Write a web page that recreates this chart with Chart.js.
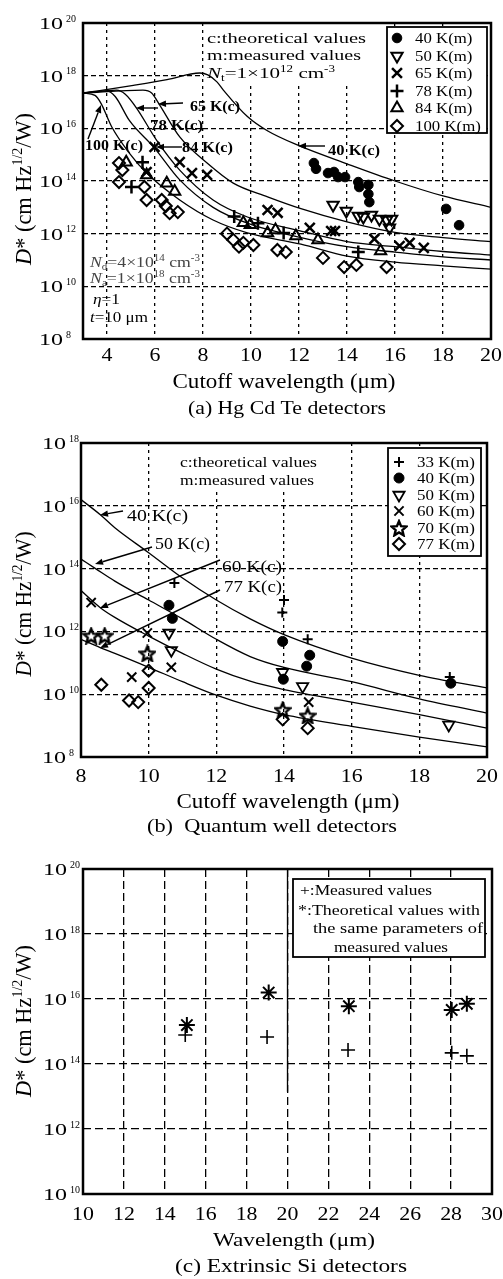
<!DOCTYPE html>
<html>
<head>
<meta charset="utf-8">
<script src="https://cdn.jsdelivr.net/npm/chart.js@4.4.0/dist/chart.umd.min.js"></script>
<style>
    html, body { margin: 0; padding: 0; background: #fff; }
    body { width: 503px; height: 1279px; position: relative; overflow: hidden; }
    .panel { position: absolute; left: 0; width: 503px; }
</style>
</head>
<body>
<div class="panel" style="top:0"><canvas id="chartA" width="503" height="420"></canvas></div>
<div class="panel" style="top:420px"><canvas id="chartB" width="503" height="420"></canvas></div>
<div class="panel" style="top:840px"><canvas id="chartC" width="503" height="439"></canvas></div>
<script>
// ---------- (a) HgCdTe detectors ----------
const hgTicksX = [4, 6, 8, 10, 12, 14, 16, 18, 20];
const hgTicksD = [1e8, 1e10, 1e12, 1e14, 1e16, 1e18, 1e20];

// theoretical curves (c)
const hgC40x = [3, 3.7, 5.1, 6.5, 7.87, 8.2, 8.58, 8.84, 9.85, 10.7, 12, 14, 16, 18, 20];
const hgC40d = [2.2e17, 2.7e17, 4.3e17, 7.1e17, 1.26e18, 1.07e18, 5.8e17, 2.9e17, 2.8e16, 7.9e15, 2.2e15, 4.5e14, 1.0e14, 2.7e13, 1.0e13];
const hgC65x = [3, 5.5, 5.86, 6.19, 7.03, 8.17, 9.26, 10.69, 12.08, 14, 16, 18, 20];
const hgC65d = [2.2e17, 2.8e17, 2.2e17, 7.8e16, 4.7e15, 4.8e14, 8.3e13, 2.5e13, 8.9e12, 2.8e12, 1.12e12, 7.1e11, 5.0e11];
const hgC78x = [3, 4.4, 4.75, 5.23, 6.07, 7.03, 8.42, 9.85, 12.08, 14, 16, 18, 20];
const hgC78d = [2.2e17, 2.8e17, 2.0e17, 5.9e16, 3.5e15, 2.6e14, 1.9e13, 4.3e12, 1.26e12, 5.0e11, 3.2e11, 2.1e11, 1.55e11];
const hgC84x = [3, 4.0, 4.35, 4.93, 5.98, 7.03, 8.42, 9.85, 12.08, 14, 16, 18, 20];
const hgC84d = [2.2e17, 2.6e17, 1.58e17, 2.0e16, 1.78e15, 1.1e14, 1.0e13, 2.5e12, 7.1e11, 3.2e11, 2.0e11, 1.32e11, 1.0e11];
const hgC100x = [3, 3.5, 3.75, 4.2, 4.93, 5.65, 7.03, 8.42, 9.85, 12.08, 14, 16, 18, 20];
const hgC100d = [2.2e17, 1.78e17, 8.9e16, 1.12e16, 1.15e15, 2.0e14, 1.9e13, 3.3e12, 1.07e12, 4.0e11, 1.41e11, 8.3e10, 6.0e10, 4.5e10];

// measured values (m)
const hgM40x = [12.62, 12.71, 13.21, 13.46, 13.63, 13.92, 14.47, 14.51, 14.89, 14.89, 14.93, 18.13, 18.67];
const hgM40d = [4.8e14, 2.9e14, 2.0e14, 2.2e14, 1.41e14, 1.41e14, 9.1e13, 5.9e13, 7.1e13, 3.2e13, 1.58e13, 8.7e12, 2.1e12];
const hgM50x = [13.42, 13.97, 14.47, 14.68, 15.02, 15.35, 15.65, 15.86, 15.77];
const hgM50d = [1.23e13, 7.2e12, 4.7e12, 4.3e12, 5.1e12, 3.6e12, 3.3e12, 3.6e12, 1.66e12];
const hgM65x = [5.98, 5.65, 7.03, 7.54, 8.17, 10.69, 11.11, 12.45, 13.34, 13.50, 15.14, 16.19, 16.61, 17.20];
const hgM65d = [1.95e15, 2.2e14, 5.2e14, 2.0e14, 1.7e14, 7.9e12, 6.2e12, 1.66e12, 1.26e12, 1.26e12, 6.3e11, 3.4e11, 4.5e11, 2.9e11];
const hgM78x = [5.02, 5.48, 9.30, 10.29, 11.36, 14.47];
const hgM78d = [5.9e13, 5.2e14, 4.5e12, 2.5e12, 1.07e12, 2.0e11];
const hgM84x = [4.8, 5.65, 6.49, 6.82, 9.68, 9.97, 10.69, 11.02, 11.87, 12.79, 15.4];
const hgM84d = [5.2e14, 1.7e14, 8.3e13, 4.0e13, 2.6e12, 2.2e12, 1.07e12, 1.38e12, 8.1e11, 5.8e11, 2.2e11];
const hgM100x = [4.5, 4.64, 4.5, 5.56, 5.65, 6.28, 6.45, 6.61, 6.95, 9.0, 9.26, 9.5, 9.68, 10.1, 11.1, 11.45, 13.0, 13.88, 14.39, 15.65];
const hgM100d = [4.8e14, 2.6e14, 9.1e13, 5.9e13, 1.9e13, 1.9e13, 1.12e13, 6.0e12, 6.6e12, 1.0e12, 5.8e11, 3.2e11, 4.5e11, 3.7e11, 2.4e11, 2.0e11, 1.2e11, 5.4e10, 6.5e10, 5.4e10];
const hgLegend = ['40 K(m)', '50 K(m)', '65 K(m)', '78 K(m)', '84 K(m)', '100 K(m)'];

// ---------- (b) Quantum well detectors ----------
const qwTicksX = [8, 10, 12, 14, 16, 18, 20];
const qwTicksD = [1e8, 1e10, 1e12, 1e14, 1e16, 1e18];

const qwC40x = [8, 8.58, 9, 10, 11, 12, 13, 14, 16, 18, 20];
const qwC40d = [1.58e16, 5.1e15, 2.0e15, 3.2e14, 5.0e13, 1.0e13, 2.5e12, 7.9e11, 1.41e11, 4.0e10, 1.58e10];
const qwC50x = [8, 8.43, 9, 10, 11, 12, 13, 14, 16, 18, 20];
const qwC50d = [2.0e14, 1.0e14, 4.0e13, 1.0e13, 2.5e12, 5.6e11, 1.58e11, 7.1e10, 2.5e10, 7.1e9, 2.5e9];
const qwC60x = [8, 8.58, 9, 10, 11, 12, 13, 14, 16, 18, 20];
const qwC60d = [2.0e13, 5.6e12, 2.8e12, 7.1e11, 2.0e11, 6.3e10, 2.6e10, 1.41e10, 5.6e9, 2.24e9, 8.3e8];
const qwC77x = [8, 8.58, 9, 10, 11, 12, 13, 14, 16, 18, 20];
const qwC77d = [5.6e11, 3.0e11, 2.0e11, 7.2e10, 2.5e10, 9.3e9, 4.2e9, 2.24e9, 9.5e8, 4.3e8, 2.1e8];

const qwM33x = [10.76, 14.0, 13.95, 14.7, 18.9];
const qwM33d = [3.5e13, 1.0e13, 4.0e12, 5.6e11, 3.5e10];
const qwM40x = [10.6, 10.7, 13.96, 14.76, 14.67, 13.98, 18.93];
const qwM40d = [6.8e12, 2.6e12, 4.8e11, 1.74e11, 7.8e10, 3.0e10, 2.24e10];
const qwM50x = [10.6, 10.67, 13.96, 14.55, 18.87];
const qwM50d = [8.9e11, 2.5e11, 5.0e10, 1.78e10, 1.05e9];
const qwM60x = [8.3, 9.96, 9.5, 10.67, 14.73];
const qwM60d = [8.3e12, 8.9e11, 3.5e10, 7.2e10, 5.6e9];
const qwM70x = [8.3, 8.7, 9.96, 13.96, 14.7];
const qwM70d = [7.4e11, 7.4e11, 2.0e11, 3.2e9, 2.1e9];
const qwM77x = [8.6, 9.42, 9.69, 10.0, 10.0, 13.96, 14.7];
const qwM77d = [2.0e10, 6.3e9, 5.6e9, 5.6e10, 1.58e10, 1.58e9, 8.3e8];
const qwLegend = ['33 K(m)', '40 K(m)', '50 K(m)', '60 K(m)', '70 K(m)', '77 K(m)'];

// ---------- (c) Extrinsic Si detectors ----------
const siTicksX = [10, 12, 14, 16, 18, 20, 22, 24, 26, 28, 30];
const siTicksD = [1e10, 1e12, 1e14, 1e16, 1e18, 1e20];
const siMeasX = [15.0, 19.0, 22.96, 28.03, 28.77];
const siMeasD = [7.8e14, 6.8e14, 2.7e14, 2.2e14, 1.78e14];
const siTheoX = [15.08, 19.08, 23.0, 28.03, 28.77];
const siTheoD = [1.58e15, 1.58e16, 6.0e15, 4.6e15, 7.1e15];
const siDividerX = [20, 20];
const siDividerD = [1e20, 1.4e13];

const FONT = '"Liberation Serif", "Times New Roman", serif';

function pts(xs, ds) {
    return xs.map((x, i) => ({ x: x, y: ds[i] }));
}

function curve(xs, ds) {
    return {
        data: pts(xs, ds), showLine: true, borderColor: '#000', borderWidth: 1.3,
        pointRadius: 0, cubicInterpolationMode: 'monotone', fill: false
    };
}

function marks(xs, ds, style, r, bw, opts) {
    opts = opts || {};
    return {
        data: pts(xs, ds), showLine: false, pointStyle: style, pointRadius: r,
        pointHoverRadius: r, pointRotation: opts.rot || 0, pointBorderWidth: bw,
        pointBorderColor: '#000',
        pointBackgroundColor: opts.fill ? '#000' : 'rgba(0,0,0,0)'
    };
}

// five-point outline star, used as a point style (Chart.js has no such built-in)
function starCanvas(size, lw) {
    const c = document.createElement('canvas');
    c.width = size; c.height = size;
    const g = c.getContext('2d');
    const R = size / 2 - lw / 2, r = R * 0.45, cx = size / 2, cy = size / 2 + 1;
    g.beginPath();
    for (let i = 0; i < 10; i++) {
        const a = -Math.PI / 2 + i * Math.PI / 5;
        const rr = i % 2 ? r : R;
        g.lineTo(cx + rr * Math.cos(a), cy + rr * Math.sin(a));
    }
    g.closePath();
    g.lineJoin = 'miter';
    g.lineWidth = lw; g.strokeStyle = '#000'; g.stroke();
    return c;
}

// draw a line of text made of runs (italic / superscript / subscript), stretched to a width
function drawText(ctx, runs, x, y, o) {
    if (typeof runs === 'string') runs = [{ t: runs }];
    const size = o.size;
    const parts = runs.map(r => {
        const fs = (r.sup || r.sub) ? size * 0.62 : size;
        const font = (r.it ? 'italic ' : '') + (o.bold ? 'bold ' : '') + fs + 'px ' + FONT;
        ctx.font = font;
        return { t: r.t, font: font, w: ctx.measureText(r.t).width, dy: r.sup ? -size * 0.4 : (r.sub ? size * 0.22 : 0) };
    });
    const nat = parts.reduce((s, p) => s + p.w, 0);
    const sx = o.width ? o.width / nat : (o.sx || 1);
    const total = nat * sx;
    ctx.save();
    ctx.translate(x, y);
    if (o.rot) ctx.rotate(o.rot);
    ctx.translate(o.align === 'center' ? -total / 2 : (o.align === 'right' ? -total : 0), 0);
    ctx.scale(sx, o.sy || 1);
    ctx.fillStyle = o.color || '#000';
    ctx.textBaseline = 'alphabetic';
    ctx.textAlign = 'left';
    let cx = 0;
    parts.forEach(p => { ctx.font = p.font; ctx.fillText(p.t, cx, p.dy); cx += p.w; });
    ctx.restore();
}

function arrow(ctx, x1, y1, x2, y2) {
    const a = Math.atan2(y2 - y1, x2 - x1), L = 8, W = 3.2;
    const bx = x2 - L * Math.cos(a), by = y2 - L * Math.sin(a);
    ctx.save();
    ctx.strokeStyle = '#000'; ctx.fillStyle = '#000'; ctx.lineWidth = 1.4;
    ctx.beginPath(); ctx.moveTo(x1, y1); ctx.lineTo(bx, by); ctx.stroke();
    ctx.beginPath();
    ctx.moveTo(x2, y2);
    ctx.lineTo(bx - W * Math.sin(a), by + W * Math.cos(a));
    ctx.lineTo(bx + W * Math.sin(a), by - W * Math.cos(a));
    ctx.closePath(); ctx.fill();
    ctx.restore();
}

function legendMarker(ctx, ds, x, y) {
    ctx.save();
    ctx.strokeStyle = '#000';
    ctx.fillStyle = ds.pointBackgroundColor;
    ctx.lineWidth = ds.pointBorderWidth;
    Chart.helpers.drawPoint(ctx, {
        pointStyle: ds.pointStyle, radius: ds.pointRadius,
        rotation: ds.pointRotation || 0, borderWidth: ds.pointBorderWidth
    }, Math.round(x), Math.round(y));
    ctx.restore();
}

const yTitleRuns = [{ t: 'D', it: true }, { t: '* (cm Hz' }, { t: '1/2', sup: true }, { t: '/W)' }];

function decorPlugin(spec) {
    return {
        id: 'decor_' + spec.key,
        beforeDatasetsDraw(chart) {
            // white patches that hide grid lines behind text blocks
            const ctx = chart.ctx;
            ctx.save();
            ctx.fillStyle = '#fff';
            spec.masks.forEach(m => ctx.fillRect(m[0], m[1], m[2] - m[0], m[3] - m[1]));
            ctx.restore();
        },
        afterDraw(chart) {
            const ctx = chart.ctx, a = chart.chartArea;
            const xs = chart.scales.x, ys = chart.scales.y;

            ctx.save();
            ctx.strokeStyle = '#000'; ctx.lineWidth = 2.5;
            ctx.strokeRect(a.left, a.top, a.right - a.left, a.bottom - a.top);
            ctx.restore();

            // tick labels
            spec.xTicks.forEach(v => {
                drawText(ctx, String(v), xs.getPixelForValue(v), a.bottom + spec.xLabelDy, { size: 19, sx: 1.15, align: 'center' });
            });
            spec.yTicks.forEach(v => {
                const py = ys.getPixelForValue(v);
                drawText(ctx, '10', spec.yLabelLeft, py + 6, { size: 16, width: 24 });
                drawText(ctx, String(Math.round(Math.log10(v))), spec.yLabelLeft + 27, py - 1.5, { size: 10 });
            });

            // axis titles and caption
            drawText(ctx, spec.xTitle.text, spec.xTitle.x, spec.xTitle.y, { size: spec.xTitle.size, width: spec.xTitle.width, align: 'center' });
            drawText(ctx, spec.caption.text, spec.caption.x, spec.caption.y, { size: spec.caption.size, width: spec.caption.width, align: 'center' });
            drawText(ctx, yTitleRuns, spec.yTitle.x, spec.yTitle.y, { size: 20, width: spec.yTitle.width, align: 'center', rot: -Math.PI / 2, sy: 1.15 });

            // legend box
            if (spec.legend) {
                const L = spec.legend;
                ctx.save();
                ctx.fillStyle = '#fff'; ctx.fillRect(L.box[0], L.box[1], L.box[2] - L.box[0], L.box[3] - L.box[1]);
                ctx.strokeStyle = '#000'; ctx.lineWidth = 1.8;
                ctx.strokeRect(L.box[0], L.box[1], L.box[2] - L.box[0], L.box[3] - L.box[1]);
                ctx.restore();
                (L.labels || []).forEach((lab, i) => {
                    const cy = L.firstY + i * L.step;
                    legendMarker(ctx, chart.data.datasets[L.dsStart + i], L.markX, cy);
                    drawText(ctx, lab, L.textX, cy + 5, { size: 15, sx: L.sx });
                });
                (L.lines || []).forEach(t => drawText(ctx, t.runs, t.x, t.y, t));
            }

            spec.texts.forEach(t => drawText(ctx, t.runs, t.x, t.y, t));
            spec.arrows.forEach(r => arrow(ctx, r[0], r[1], r[2], r[3]));
        }
    };
}

function buildChart(id, spec, datasets) {
    const canvas = document.getElementById(id);
    return new Chart(canvas, {
        type: 'scatter',
        data: { datasets: datasets },
        options: {
            responsive: false,
            animation: false,
            events: [],
            layout: { padding: { top: spec.area.top, right: canvas.width - spec.area.right, left: 0, bottom: 0 } },
            plugins: { legend: { display: false }, tooltip: { enabled: false } },
            scales: {
                x: {
                    type: 'linear', min: spec.xMin, max: spec.xMax,
                    afterBuildTicks: s => { s.ticks = spec.xTicks.map(v => ({ value: v })); },
                    afterFit: s => { s.height = canvas.height - spec.area.bottom; },
                    ticks: { display: false },
                    grid: { color: '#000', lineWidth: 1.3, drawTicks: false },
                    border: { display: false, dash: spec.xDash }
                },
                y: {
                    type: 'logarithmic', min: spec.yMin, max: spec.yMax,
                    afterBuildTicks: s => { s.ticks = spec.yTicks.map(v => ({ value: v })); },
                    afterFit: s => { s.width = spec.area.left; },
                    ticks: { display: false },
                    grid: { color: '#000', lineWidth: 1.3, drawTicks: false },
                    border: { display: false, dash: spec.yDash }
                }
            }
        },
        plugins: [decorPlugin(spec)]
    });
}

// ---------- panel (a) ----------
const bold15 = { size: 15, bold: true };
buildChart('chartA', {
    key: 'a',
    area: { left: 83, top: 23, right: 491, bottom: 339 },
    xMin: 3, xMax: 20, xTicks: hgTicksX, yMin: 1e8, yMax: 1e20, yTicks: hgTicksD,
    xDash: [3, 4], yDash: [5, 3],
    yLabelLeft: 39, xLabelDy: 22,
    xTitle: { text: 'Cutoff wavelength (μm)', x: 284, y: 388, width: 223, size: 20 },
    caption: { text: '(a) Hg Cd Te detectors', x: 287, y: 414, width: 198, size: 18 },
    yTitle: { x: 31, y: 189, width: 152 },
    masks: [[204, 24, 387, 86]],
    legend: { box: [387, 27, 487, 133], firstY: 38, step: 17.5, markX: 397, textX: 415, sx: 1.12, dsStart: 5, labels: hgLegend },
    texts: [
        { runs: 'c:theoretical values', x: 207, y: 43, size: 15, width: 159 },
        { runs: 'm:measured values', x: 207, y: 60, size: 15, width: 154 },
        { runs: [{ t: 'N', it: true }, { t: 't', sub: true }, { t: '=1×10' }, { t: '12', sup: true }, { t: ' cm' }, { t: '-3', sup: true }], x: 207, y: 78, size: 15, width: 128 },
        { runs: [{ t: 'N', it: true }, { t: 'd', sub: true }, { t: '=4×10' }, { t: '14', sup: true }, { t: ' cm' }, { t: '-3', sup: true }], x: 90, y: 267, size: 15, width: 110, color: '#444' },
        { runs: [{ t: 'N', it: true }, { t: 'a', sub: true }, { t: '=1×10' }, { t: '18', sup: true }, { t: ' cm' }, { t: '-3', sup: true }], x: 90, y: 283, size: 15, width: 110, color: '#444' },
        { runs: [{ t: 'η', it: true }, { t: '=1' }], x: 93, y: 304, size: 15, width: 27 },
        { runs: [{ t: 't', it: true }, { t: '=10 μm' }], x: 90, y: 322, size: 15, width: 58 },
        Object.assign({ runs: '65 K(c)', x: 190, y: 111, width: 50 }, bold15),
        Object.assign({ runs: '78 K(c)', x: 150, y: 130, width: 53 }, bold15),
        Object.assign({ runs: '100 K(c)', x: 85, y: 150, width: 58 }, bold15),
        Object.assign({ runs: '84 K(c)', x: 182, y: 152, width: 51 }, bold15),
        Object.assign({ runs: '40 K(c)', x: 328, y: 155, width: 52 }, bold15)
    ],
    arrows: [
        [183, 103, 158, 104],
        [158, 108, 136, 108],
        [88, 139, 101, 105],
        [182, 147, 156, 147],
        [325, 146, 298, 146]
    ]
}, [
    curve(hgC40x, hgC40d), curve(hgC65x, hgC65d), curve(hgC78x, hgC78d),
    curve(hgC84x, hgC84d), curve(hgC100x, hgC100d),
    marks(hgM40x, hgM40d, 'circle', 4.8, 1, { fill: true }),
    marks(hgM50x, hgM50d, 'triangle', 6.5, 2, { rot: 180 }),
    marks(hgM65x, hgM65d, 'crossRot', 7, 2.5),
    marks(hgM78x, hgM78d, 'cross', 6.5, 2.5),
    marks(hgM84x, hgM84d, 'triangle', 6.5, 2),
    marks(hgM100x, hgM100d, 'rectRot', 6, 2)
]);

// ---------- panel (b) ----------
buildChart('chartB', {
    key: 'b',
    area: { left: 81, top: 23, right: 487, bottom: 337 },
    xMin: 8, xMax: 20, xTicks: qwTicksX, yMin: 1e8, yMax: 1e18, yTicks: qwTicksD,
    xDash: [3, 4], yDash: [5, 3],
    yLabelLeft: 42, xLabelDy: 25,
    xTitle: { text: 'Cutoff wavelength (μm)', x: 288, y: 388, width: 223, size: 20 },
    caption: { text: '(b)  Quantum well detectors', x: 272, y: 412, width: 250, size: 18 },
    yTitle: { x: 31, y: 184, width: 145 },
    masks: [[168, 24, 335, 72]],
    legend: { box: [388, 28, 481, 136], firstY: 42, step: 16.4, markX: 399, textX: 417, sx: 1.13, dsStart: 4, labels: qwLegend },
    texts: [
        { runs: 'c:theoretical values', x: 180, y: 47, size: 15, width: 137 },
        { runs: 'm:measured values', x: 180, y: 65, size: 15, width: 134 },
        { runs: '40 K(c)', x: 127, y: 101, size: 16, width: 61 },
        { runs: '50 K(c)', x: 155, y: 129, size: 16, width: 55 },
        { runs: '60 K(c)', x: 222, y: 152, size: 16, width: 60 },
        { runs: '77 K(c)', x: 224, y: 172, size: 16, width: 58 }
    ],
    arrows: [
        [123, 91, 100, 95],
        [152, 127, 95, 144],
        [220, 140, 100, 188],
        [220, 170, 100, 228]
    ]
}, [
    curve(qwC40x, qwC40d), curve(qwC50x, qwC50d), curve(qwC60x, qwC60d), curve(qwC77x, qwC77d),
    marks(qwM33x, qwM33d, 'cross', 5, 2),
    marks(qwM40x, qwM40d, 'circle', 5, 1, { fill: true }),
    marks(qwM50x, qwM50d, 'triangle', 6.5, 1.8, { rot: 180 }),
    marks(qwM60x, qwM60d, 'crossRot', 6.5, 2),
    marks(qwM70x, qwM70d, starCanvas(18, 2.4), 7, 2),
    marks(qwM77x, qwM77d, 'rectRot', 6, 2)
]);

// ---------- panel (c) ----------
buildChart('chartC', {
    key: 'c',
    area: { left: 83, top: 29, right: 492, bottom: 354 },
    xMin: 10, xMax: 30, xTicks: siTicksX, yMin: 1e10, yMax: 1e20, yTicks: siTicksD,
    xDash: [8, 4], yDash: [8, 4],
    yLabelLeft: 43, xLabelDy: 26,
    xTitle: { text: 'Wavelength (μm)', x: 294, y: 406, width: 162, size: 19 },
    caption: { text: '(c) Extrinsic Si detectors', x: 291, y: 432, width: 232, size: 19 },
    yTitle: { x: 31, y: 181, width: 152 },
    masks: [],
    legend: {
        box: [293, 39, 485, 117],
        lines: [
            { runs: '+:Measured values', x: 300, y: 55, size: 15, width: 132 },
            { runs: '*:Theoretical values with', x: 298, y: 75, size: 15, width: 182 },
            { runs: 'the same parameters of', x: 313, y: 93, size: 15, width: 170 },
            { runs: 'measured values', x: 334, y: 112, size: 15, width: 114 }
        ]
    },
    texts: [],
    arrows: []
}, [
    { data: pts(siDividerX, siDividerD), showLine: true, borderColor: '#000', borderWidth: 1.3, pointRadius: 0 },
    marks(siMeasX, siMeasD, 'cross', 7, 1.6),
    marks(siTheoX, siTheoD, 'star', 8, 2)
]);
</script>
</body>
</html>
